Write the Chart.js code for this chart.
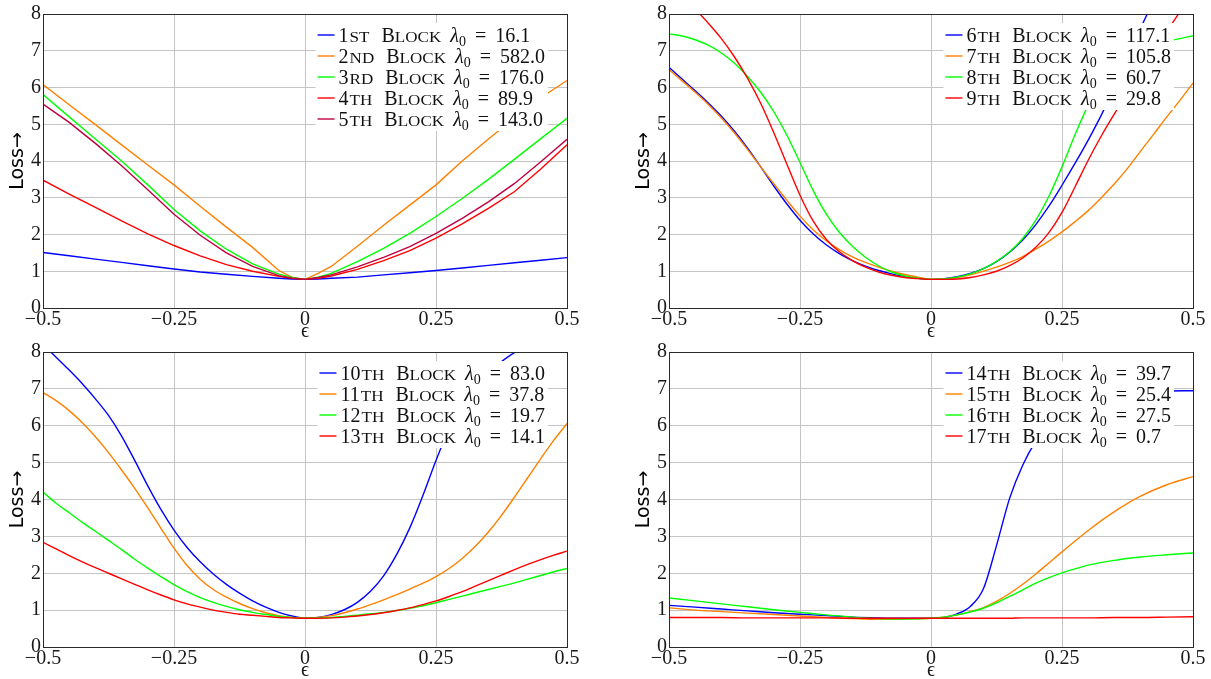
<!DOCTYPE html>
<html><head><meta charset="utf-8">
<script src="https://cdn.jsdelivr.net/npm/chart.js@4.4.1/dist/chart.umd.min.js"></script>
<style>
html,body{margin:0;padding:0;background:#fff;}
body{width:1211px;height:679px;overflow:hidden;position:relative;}
canvas{position:absolute;display:block;}
</style>
</head><body>
<canvas id="c1" width="585" height="340" style="left:0;top:0"></canvas>
<canvas id="c2" width="585" height="340" style="left:626px;top:0"></canvas>
<canvas id="c3" width="585" height="341" style="left:0;top:338px"></canvas>
<canvas id="c4" width="585" height="341" style="left:626px;top:338px"></canvas>
<script>
// ---------- data ----------
const epsTicks = [-0.5, -0.25, 0, 0.25, 0.5];
const epsTickLabels = ['\u22120.5', '\u22120.25', '0', '0.25', '0.5'];
const lossTicks = [0, 1, 2, 3, 4, 5, 6, 7, 8];

// x grids (epsilon)
const xsA = [-0.5,-0.45,-0.4,-0.35,-0.3,-0.25,-0.2,-0.15,-0.1,-0.05,-0.025,0,0.025,0.05,0.1,0.15,0.2,0.25,0.3,0.35,0.4,0.45,0.5];
const xsC = [-0.5,-0.475,-0.45,-0.425,-0.4,-0.375,-0.35,-0.325,-0.3,-0.275,-0.25,-0.225,-0.2,-0.175,-0.15,-0.125,-0.1,-0.075,-0.05,-0.025,0,
             0.025,0.05,0.075,0.1,0.125,0.15,0.175,0.2,0.225,0.25,0.275,0.3,0.325,0.35,0.375,0.4,0.425,0.45,0.475,0.5];
const xsB = [-0.5,-0.45,-0.4,-0.35,-0.3,-0.25,-0.2,-0.15,-0.1,-0.05,0,0.025,0.05,0.075,0.1,0.125,0.15,0.175,0.2,0.225,0.25,0.3,0.35,0.4,0.45,0.5];

// panel 1 (on xsA)
const block1 = [1.51,1.42,1.33,1.24,1.15,1.06,0.98,0.92,0.86,0.81,0.79,0.78,0.79,0.81,0.84,0.90,0.96,1.02,1.09,1.16,1.23,1.30,1.37];
const block2 = [6.08,5.53,4.99,4.44,3.89,3.35,2.77,2.20,1.65,1.02,0.84,0.78,0.94,1.13,1.68,2.25,2.80,3.35,4.00,4.60,5.17,5.72,6.19];
const block3 = [5.81,5.20,4.60,4.00,3.35,2.68,2.10,1.60,1.20,0.92,0.83,0.78,0.84,0.94,1.26,1.62,2.03,2.49,2.98,3.50,4.05,4.61,5.16];
const block4 = [3.48,3.10,2.74,2.37,2.02,1.70,1.42,1.18,1.00,0.86,0.81,0.78,0.81,0.87,1.05,1.29,1.56,1.90,2.29,2.71,3.17,3.78,4.44];
const block5 = [5.55,5.05,4.48,3.87,3.22,2.55,1.98,1.50,1.13,0.88,0.81,0.78,0.83,0.90,1.12,1.38,1.67,2.03,2.44,2.89,3.39,3.98,4.59];
// panel 2 (on xsC)
const block6 = [6.55,6.23,5.91,5.58,5.22,4.81,4.35,3.84,3.32,2.83,2.39,2.02,1.72,1.48,1.29,1.14,1.02,0.93,0.86,0.81,0.78,
                0.80,0.85,0.94,1.07,1.26,1.52,1.85,2.27,2.77,3.34,3.94,4.57,5.25,5.99,6.79,7.61,8.36,9.01,9.61,10.21];
const block7 = [6.49,6.18,5.87,5.54,5.17,4.76,4.31,3.84,3.38,2.93,2.50,2.13,1.83,1.59,1.39,1.24,1.11,1.00,0.91,0.84,0.78,
                0.79,0.83,0.90,1.00,1.11,1.24,1.40,1.60,1.82,2.07,2.35,2.65,3.00,3.38,3.80,4.27,4.73,5.20,5.65,6.12];
const block8 = [7.46,7.40,7.30,7.15,6.94,6.66,6.30,5.87,5.34,4.70,3.96,3.20,2.56,2.06,1.68,1.38,1.15,0.98,0.87,0.81,0.78,
                0.79,0.84,0.93,1.07,1.27,1.53,1.89,2.39,3.04,3.84,4.72,5.52,6.16,6.60,6.88,7.06,7.18,7.26,7.33,7.41];
const block9 = [8.89,8.51,8.13,7.75,7.33,6.83,6.25,5.57,4.77,3.91,3.07,2.37,1.87,1.53,1.29,1.11,0.98,0.89,0.83,0.80,0.78,
                0.78,0.79,0.83,0.90,1.00,1.15,1.36,1.65,2.05,2.60,3.30,4.02,4.68,5.28,5.85,6.41,6.97,7.52,8.06,8.60];
// panel 3 (on xsC)
const block10 = [8.20,7.86,7.51,7.14,6.73,6.28,5.72,5.06,4.37,3.73,3.17,2.70,2.31,1.98,1.70,1.46,1.25,1.08,0.94,0.84,0.78,
                 0.80,0.88,1.01,1.21,1.51,1.93,2.51,3.23,4.11,5.06,5.91,6.56,7.06,7.44,7.74,7.99,8.21,8.41,8.61,8.81];
const block11 = [6.90,6.68,6.41,6.08,5.70,5.27,4.80,4.30,3.77,3.22,2.68,2.21,1.84,1.56,1.35,1.18,1.04,0.93,0.85,0.80,0.78,
                 0.80,0.85,0.93,1.03,1.15,1.28,1.42,1.57,1.73,1.91,2.13,2.40,2.73,3.12,3.57,4.07,4.59,5.11,5.61,6.06];
const block12 = [4.20,3.90,3.64,3.38,3.14,2.89,2.64,2.38,2.14,1.91,1.69,1.50,1.34,1.21,1.10,1.01,0.94,0.88,0.83,0.80,0.78,
                 0.79,0.80,0.83,0.86,0.90,0.94,0.99,1.05,1.12,1.20,1.29,1.38,1.47,1.56,1.65,1.74,1.84,1.94,2.04,2.13];
const block13 = [2.84,2.66,2.48,2.31,2.15,2.00,1.85,1.70,1.55,1.41,1.28,1.17,1.08,1.00,0.94,0.89,0.86,0.83,0.80,0.79,0.78,
                 0.78,0.79,0.81,0.84,0.88,0.93,0.99,1.06,1.15,1.25,1.37,1.50,1.65,1.80,1.95,2.10,2.24,2.37,2.49,2.60];
// panel 4 (on xsB)
const block14 = [1.13,1.08,1.03,0.98,0.93,0.89,0.85,0.81,0.79,0.78,0.78,0.80,0.90,1.10,1.58,2.75,4.03,4.93,5.58,6.05,6.38,6.70,6.85,6.91,6.94,6.95];
const block15 = [1.06,1.00,0.96,0.92,0.88,0.84,0.80,0.77,0.75,0.76,0.78,0.81,0.87,0.96,1.07,1.24,1.45,1.70,1.98,2.28,2.58,3.16,3.67,4.09,4.40,4.62];
const block16 = [1.33,1.25,1.17,1.09,1.01,0.94,0.87,0.81,0.77,0.76,0.78,0.81,0.87,0.95,1.05,1.20,1.37,1.55,1.73,1.88,2.01,2.22,2.35,2.44,2.50,2.55];
const block17 = [0.80,0.80,0.80,0.79,0.79,0.79,0.79,0.78,0.78,0.78,0.78,0.78,0.78,0.78,0.78,0.78,0.78,0.79,0.79,0.79,0.79,0.79,0.80,0.80,0.81,0.82];

const ordinals1 = ['1st','2nd','3rd','4th','5th'];
const lambdas1 = [16.1, 582.0, 176.0, 89.9, 143.0];
const ordinals2 = ['6th','7th','8th','9th'];
const lambdas2 = [117.1, 105.8, 60.7, 29.8];
const ordinals3 = ['10th','11th','12th','13th'];
const lambdas3 = [83.0, 37.8, 19.7, 14.1];
const ordinals4 = ['14th','15th','16th','17th'];
const lambdas4 = [39.7, 25.4, 27.5, 0.7];

const colors5 = ['#0000ff', '#ff8000', '#00ff00', '#ff0000', '#bf0040'];
const colors4 = ['#0000ff', '#ff8000', '#00ff00', '#ff0000'];

// ---------- drawing helpers ----------
const SERIF = "'Liberation Serif','DejaVu Serif',serif";
const SANS = "'DejaVu Sans','Liberation Sans',sans-serif";
const FS = 20;
const SC_X = 1.22; // horizontal widening of small caps

function seg(ctx, x, y, text, opts, draw) {
  const size = opts.size || FS;
  const style = opts.italic ? 'italic ' : '';
  ctx.save();
  let t = text, sx = 1;
  const hasCaps = ('fontVariantCaps' in ctx);
  if (opts.caps) {
    sx = SC_X;
    if (hasCaps) {
      ctx.font = '20px ' + SERIF;
      ctx.fontVariantCaps = 'small-caps';
    } else {
      ctx.font = '14px ' + SERIF;
      t = text.toUpperCase();
    }
  } else {
    ctx.font = style + size + 'px ' + SERIF;
  }
  const w = ctx.measureText(t).width * sx;
  if (draw) {
    ctx.translate(x, y + (opts.dy || 0));
    ctx.scale(sx, 1);
    ctx.fillText(t, 0, 0);
  }
  ctx.restore();
  return w;
}

function entryText(ctx, x0, y, ordinal, lambda, draw) {
  const num = ordinal.match(/^\d+/)[0];
  const suf = ordinal.slice(num.length);
  let x = x0;
  x += seg(ctx, x, y, num, {}, draw);
  x += 1;
  x += seg(ctx, x, y, suf, {caps: true}, draw);
  x += 12;
  x += seg(ctx, x, y, 'B', {}, draw);
  x += seg(ctx, x, y, 'lock', {caps: true}, draw);
  x += 9;
  x += seg(ctx, x, y, '\u03bb', {italic: true}, draw);
  x += seg(ctx, x, y, '0', {size: 14, dy: 4}, draw);
  x += 9;
  x += seg(ctx, x, y, '=', {}, draw);
  x += 9;
  x += seg(ctx, x, y, lambda.toFixed(1), {}, draw);
  return x - x0;
}

const boxPlugin = {
  id: 'boxLegendFrame',
  afterDatasetsDraw(chart) {
    const {ctx, chartArea: a} = chart;
    const ds = chart.data.datasets;
    ctx.save();
    ctx.textBaseline = 'alphabetic';
    ctx.textAlign = 'left';
    const rowH = 21, padL = 2, lineLen = 17, gap = 4, padR = 3;
    const widths = ds.map(d => entryText(ctx, 0, 0, d.ordinal, d.lambda, false));
    const tw = Math.max.apply(null, widths);
    const boxW = padL + lineLen + gap + tw + padR;
    const right = a.right - 19;
    const top = a.top + 9;
    const left = right - boxW;
    const boxH = rowH * ds.length + 3;
    ctx.fillStyle = '#ffffff';
    ctx.fillRect(left, top, boxW, boxH);
    ds.forEach((d, i) => {
      const cy = top + 12 + i * rowH;
      ctx.strokeStyle = d.borderColor;
      ctx.lineWidth = 1.4;
      ctx.beginPath();
      ctx.moveTo(left + padL, cy);
      ctx.lineTo(left + padL + lineLen, cy);
      ctx.stroke();
      ctx.fillStyle = '#111';
      entryText(ctx, left + padL + lineLen + gap, cy + 7, d.ordinal, d.lambda, true);
    });
    // frame
    ctx.strokeStyle = '#2a2a2a';
    ctx.lineWidth = 1;
    ctx.strokeRect(a.left + 0.5, a.top + 0.5, a.right - a.left, a.bottom - a.top);
    ctx.restore();
  }
};

function makeChart(id, xs, series, colors, ordinals, lambdas, tension) {
  const datasets = series.map((ys, i) => ({
    label: ordinals[i] + ' Block \u03bb0 = ' + lambdas[i].toFixed(1),
    ordinal: ordinals[i],
    lambda: lambdas[i],
    data: xs.map((x, j) => ({x: x, y: ys[j]})),
    borderColor: colors[i],
    backgroundColor: colors[i],
    borderWidth: 1.4,
    pointRadius: 0,
    fill: false,
    tension: tension,
    cubicInterpolationMode: tension ? 'monotone' : 'default',
    clip: 0,
    order: -i
  }));
  return new Chart(document.getElementById(id), {
    type: 'line',
    data: {datasets: datasets},
    options: {
      responsive: false,
      animation: false,
      devicePixelRatio: 1,
      layout: {padding: {left: 0, right: 18, top: 14, bottom: 0}},
      plugins: {legend: {display: false}, tooltip: {enabled: false}},
      scales: {
        x: {
          type: 'linear', min: -0.5, max: 0.5,
          afterBuildTicks: s => { s.ticks = epsTicks.map(v => ({value: v})); },
          ticks: {
            callback: (v, i) => epsTickLabels[i],
            font: {family: SERIF, size: FS, lineHeight: 1},
            color: '#1a1a1a', padding: 2, maxRotation: 0, autoSkip: false
          },
          grid: {color: '#c4c4c4', lineWidth: 1, drawTicks: false},
          border: {display: false},
          title: {display: true, text: '\u03f5', color: '#1a1a1a', padding: 0,
                  font: {family: SERIF, size: 20, lineHeight: 0.85}},
          afterFit: s => { s.height = 32; }
        },
        y: {
          type: 'linear', min: 0, max: 8,
          afterBuildTicks: s => { s.ticks = lossTicks.map(v => ({value: v})); },
          ticks: {
            callback: (v, i) => String(lossTicks[i]),
            font: {family: SERIF, size: FS, lineHeight: 1},
            color: '#1a1a1a', padding: 2, autoSkip: false
          },
          grid: {color: '#c4c4c4', lineWidth: 1, drawTicks: false},
          border: {display: false},
          title: {display: true, text: 'Loss\u2192', color: '#000',
                  padding: {top: 7, bottom: 0},
                  font: {family: SANS, size: 19, lineHeight: 1.2}},
          afterFit: s => { s.width = 43; }
        }
      }
    },
    plugins: [boxPlugin]
  });
}

makeChart('c1', xsA, [block1, block2, block3, block4, block5], colors5, ordinals1, lambdas1, 0);
makeChart('c2', xsC, [block6, block7, block8, block9], colors4, ordinals2, lambdas2, 0.4);
makeChart('c3', xsC, [block10, block11, block12, block13], colors4, ordinals3, lambdas3, 0.4);
makeChart('c4', xsB, [block14, block15, block16, block17], colors4, ordinals4, lambdas4, 0.4);
</script>
</body></html>
